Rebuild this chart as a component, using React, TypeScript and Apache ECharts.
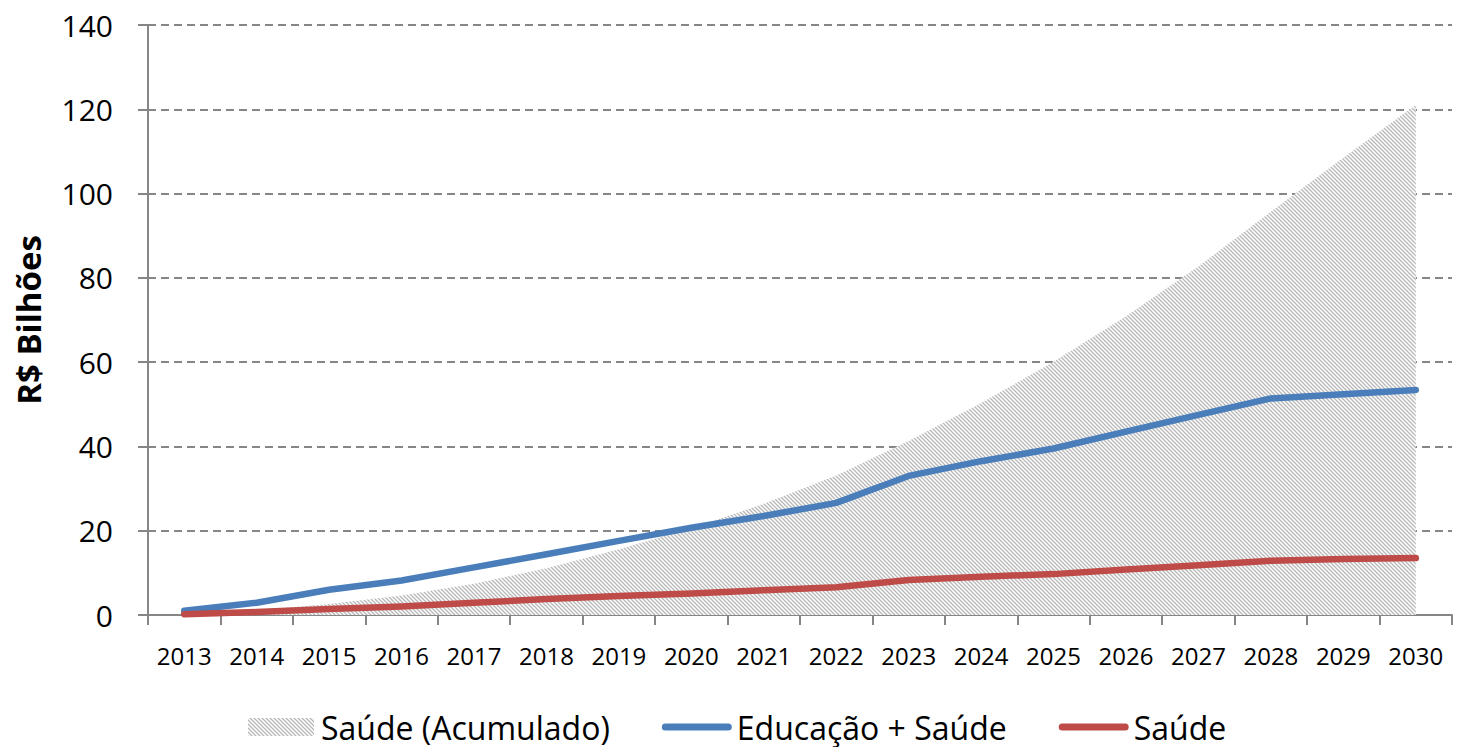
import { useEffect, useRef } from "react";
import * as echarts from "echarts";

const years = ["2013", "2014", "2015", "2016", "2017", "2018", "2019", "2020", "2021", "2022", "2023", "2024", "2025", "2026", "2027", "2028", "2029", "2030"];
const saudeAcumulado = [0.3, 1.1, 2.6, 4.6, 7.4, 11.1, 15.6, 20.6, 26.4, 33.1, 41.3, 50.3, 60.1, 70.9, 82.7, 95.7, 108.5, 121];
const educacaoSaude = [1.0, 2.9, 6.0, 8.2, 11.3, 14.4, 17.6, 20.7, 23.5, 26.6, 33.0, 36.5, 39.5, 43.5, 47.5, 51.4, 52.4, 53.4];
const saude = [0.2, 0.7, 1.4, 2.0, 2.9, 3.8, 4.5, 5.1, 5.9, 6.6, 8.3, 9.1, 9.7, 10.8, 11.8, 12.9, 13.3, 13.5];
const yMin = 0;
const yMax = 140;
const yInterval = 20;

const FONT = "'Open Sans', 'Noto Sans', sans-serif";

function makePattern(): HTMLCanvasElement {
  const c = document.createElement("canvas");
  c.width = 4;
  c.height = 4;
  const ctx = c.getContext("2d")!;
  ctx.fillStyle = "#ffffff";
  ctx.fillRect(0, 0, 4, 4);
  ctx.strokeStyle = "#b6b6b6";
  ctx.lineWidth = 1.25;
  ctx.beginPath();
  ctx.moveTo(-1, -1);
  ctx.lineTo(5, 5);
  ctx.moveTo(-1, 3);
  ctx.lineTo(1, 5);
  ctx.moveTo(3, -1);
  ctx.lineTo(5, 1);
  ctx.stroke();
  return c;
}

const LINE_ICON = "path://M3.5,0H66.5A3.5,3.5,0,0,1,66.5,7H3.5A3.5,3.5,0,0,1,3.5,0Z";
const RECT_ICON = "path://M0,0H66V18H0Z";

export default function App() {
  const ref = useRef<HTMLDivElement>(null);
  useEffect(() => {
    if (!ref.current) return;
    const chart = echarts.init(ref.current, undefined, { renderer: "svg" });
    const pattern = { image: makePattern(), repeat: "repeat" } as any;
    const gray = "#868686";
    chart.setOption({
      animation: false,
      grid: { left: 148, right: 5, top: 25, bottom: 132, containLabel: false },
      legend: {
        left: 243,
        top: 704,
        itemWidth: 70,
        itemHeight: 18,
        itemGap: 52,
        textStyle: { fontSize: 32, lineHeight: 36, color: "#000", fontFamily: FONT },
        data: [
          { name: "Saúde (Acumulado)", icon: RECT_ICON, itemStyle: { color: pattern } },
          { name: "Educação + Saúde", icon: LINE_ICON, itemStyle: { color: "#4A7EBB" } },
          { name: "Saúde", icon: LINE_ICON, itemStyle: { color: "#BE4B48" } },
        ],
      },
      xAxis: {
        type: "category",
        data: years,
        boundaryGap: true,
        axisLine: { lineStyle: { color: gray, width: 2 } },
        axisTick: { show: true, length: 10, lineStyle: { color: gray, width: 2 } },
        axisLabel: { color: "#000", fontSize: 24, fontFamily: FONT, margin: 28, interval: 0 },
        splitLine: { show: false },
      },
      yAxis: {
        type: "value",
        min: yMin,
        max: yMax,
        interval: yInterval,
        name: "R$ Bilhões",
        nameLocation: "middle",
        nameGap: 103,
        nameRotate: 90,
        nameTextStyle: { fontSize: 33, fontWeight: "bold", color: "#000", fontFamily: FONT },
        axisLine: { show: true, lineStyle: { color: gray, width: 2 } },
        axisTick: { show: true, length: 10, lineStyle: { color: gray, width: 2 } },
        axisLabel: { color: "#000", fontSize: 30, fontFamily: FONT, margin: 35 },
        splitLine: { show: true, lineStyle: { color: gray, width: 2, type: [8, 5] } },
      },
      series: [
        {
          name: "Saúde (Acumulado)",
          type: "line",
          data: saudeAcumulado,
          symbol: "none",
          itemStyle: { color: "#b8b8b8" },
          lineStyle: { width: 0 },
          areaStyle: { color: pattern, opacity: 1 },
          z: 1,
        },
        {
          name: "Educação + Saúde",
          type: "line",
          data: educacaoSaude,
          symbol: "none",
          itemStyle: { color: "#4A7EBB" },
          lineStyle: { color: "#4A7EBB", width: 6.5, cap: "round", join: "round" },
          z: 2,
        },
        {
          name: "Saúde",
          type: "line",
          data: saude,
          symbol: "none",
          itemStyle: { color: "#BE4B48" },
          lineStyle: { color: "#BE4B48", width: 6.5, cap: "round", join: "round" },
          z: 3,
        },
      ],
    });
    return () => chart.dispose();
  }, []);
  return (
    <div
      ref={ref}
      style={{ position: "fixed", left: 0, top: 0, width: 1457, height: 747, background: "#fff" }}
    />
  );
}
